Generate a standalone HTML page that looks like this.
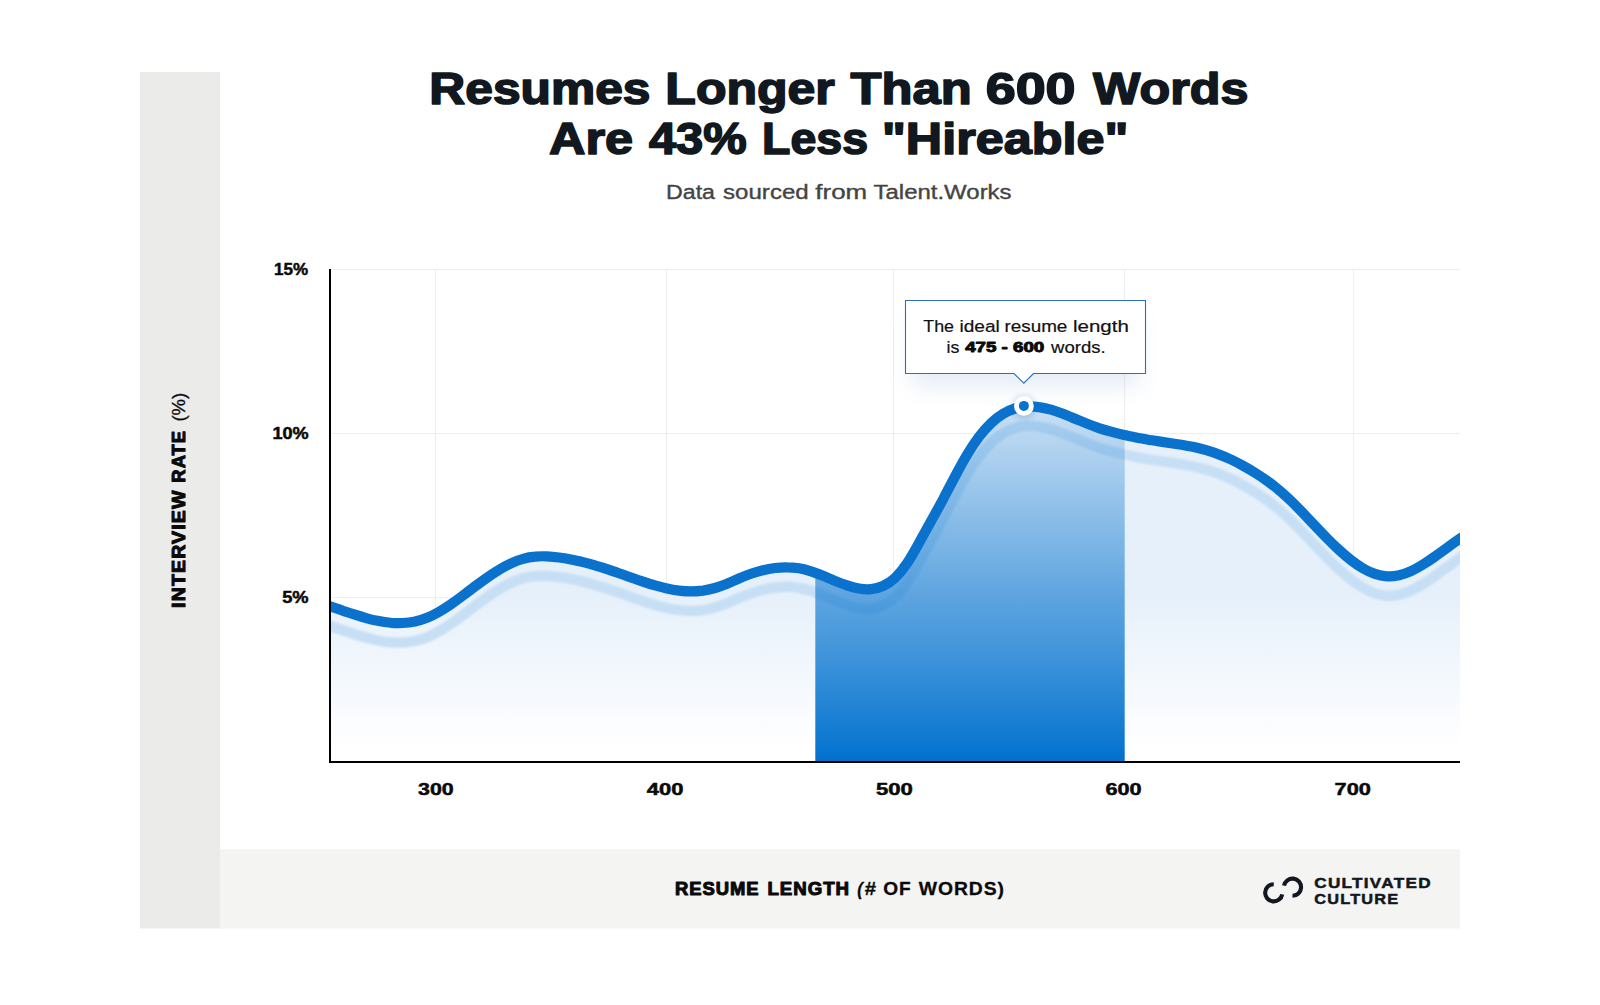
<!DOCTYPE html>
<html lang="en">
<head>
<meta charset="utf-8">
<title>Resumes Longer Than 600 Words Are 43% Less "Hireable"</title>
<style>
html,body{margin:0;padding:0;background:#fff;}
body{width:1600px;height:1005px;overflow:hidden;position:relative;font-family:"Liberation Sans", sans-serif;}
svg{position:absolute;left:0;top:0;display:block;}
text{font-family:"Liberation Sans", sans-serif;}
</style>
</head>
<body>
<svg width="1600" height="1005" viewBox="0 0 1600 1005">
<defs>
<linearGradient id="gl" gradientUnits="userSpaceOnUse" x1="0" y1="595" x2="0" y2="750">
<stop offset="0" stop-color="#e6f0fa"/><stop offset="1" stop-color="#ffffff"/>
</linearGradient>
<linearGradient id="gh" gradientUnits="userSpaceOnUse" x1="0" y1="401" x2="0" y2="762">
<stop offset="0" stop-color="#0071ce" stop-opacity="0.115"/><stop offset="1" stop-color="#0071ce" stop-opacity="1"/>
</linearGradient>
<clipPath id="plot"><rect x="331" y="260" width="1129" height="502"/></clipPath>
<clipPath id="area"><path d="M316,601.9L331.0,606.7C335.0,608.0 339.0,609.4 343.0,610.8C347.0,612.1 351.0,613.4 355.0,614.7C359.0,616.0 363.0,617.2 367.0,618.3C371.0,619.4 375.0,620.3 379.0,621.1C383.0,621.9 387.0,622.4 391.0,622.8C395.0,623.1 399.0,623.2 403.0,623.0C407.0,622.8 411.0,622.3 415.0,621.5C419.0,620.6 423.0,619.4 427.0,617.8C431.0,616.2 435.0,614.1 439.0,611.8C443.0,609.5 447.0,606.9 451.0,604.2C455.0,601.4 459.0,598.5 463.0,595.5C467.0,592.5 471.0,589.5 475.0,586.4C479.0,583.4 483.0,580.5 487.0,577.7C491.0,574.8 495.0,572.2 499.0,569.8C503.0,567.3 507.0,565.1 511.0,563.3C515.0,561.4 519.0,559.9 523.0,558.8C527.0,557.6 531.0,556.9 535.0,556.6C539.0,556.2 543.0,556.2 547.0,556.4C551.0,556.6 555.0,557.0 559.0,557.5C563.0,558.0 567.0,558.7 571.0,559.5C575.0,560.3 579.0,561.1 583.0,562.1C587.0,563.1 591.0,564.2 595.0,565.4C599.0,566.5 603.0,567.8 607.0,569.1C611.0,570.4 615.0,571.8 619.0,573.2C623.0,574.6 627.0,576.0 631.0,577.5C635.0,578.9 639.0,580.3 643.0,581.6C647.0,583.0 651.0,584.3 655.0,585.4C659.0,586.6 663.0,587.6 667.0,588.5C671.0,589.4 675.0,590.1 679.0,590.6C683.0,591.1 687.0,591.4 691.0,591.4C695.0,591.4 699.0,591.1 703.0,590.6C707.0,590.0 711.0,589.2 715.0,588.0C719.0,586.8 723.0,585.3 727.0,583.7C731.0,582.0 735.0,580.2 739.0,578.5C743.0,576.8 747.0,575.2 751.0,573.8C755.0,572.4 759.0,571.2 763.0,570.2C767.0,569.2 771.0,568.5 775.0,568.0C779.0,567.5 783.0,567.2 787.0,567.3C791.0,567.3 795.0,567.7 799.0,568.3C803.0,569.0 807.0,570.0 811.0,571.3C815.0,572.6 819.0,574.2 823.0,575.8C827.0,577.5 831.0,579.2 835.0,580.9C839.0,582.5 843.0,584.1 847.0,585.4C851.0,586.8 855.0,587.8 859.0,588.5C863.0,589.2 867.0,589.5 871.0,589.1C875.0,588.8 879.0,587.8 883.0,586.0C887.0,584.2 891.0,581.6 895.0,577.9C899.0,574.2 903.0,569.4 907.0,563.4C911.0,557.4 915.0,550.3 919.0,543.0C923.0,535.7 927.0,528.3 931.0,521.2C935.0,514.1 939.0,506.8 943.0,499.3C947.0,491.7 951.0,484.0 955.0,476.5C959.0,468.9 963.0,461.6 967.0,454.9C971.0,448.2 975.0,442.1 979.0,436.8C983.0,431.5 987.0,427.0 991.0,423.2C995.0,419.4 999.0,416.3 1003.0,413.9C1007.0,411.5 1011.0,409.7 1015.0,408.5C1019.0,407.3 1023.0,406.6 1027.0,406.4C1031.0,406.2 1035.0,406.5 1039.0,407.1C1043.0,407.6 1047.0,408.6 1051.0,409.7C1055.0,410.9 1059.0,412.3 1063.0,413.8C1067.0,415.4 1071.0,417.0 1075.0,418.7C1079.0,420.3 1083.0,422.0 1087.0,423.6C1091.0,425.2 1095.0,426.7 1099.0,428.1C1103.0,429.4 1107.0,430.6 1111.0,431.7C1115.0,432.9 1119.0,433.9 1123.0,434.8C1127.0,435.7 1131.0,436.6 1135.0,437.3C1139.0,438.1 1143.0,438.8 1147.0,439.5C1151.0,440.2 1155.0,440.8 1159.0,441.4C1163.0,442.0 1167.0,442.6 1171.0,443.2C1175.0,443.8 1179.0,444.4 1183.0,445.0C1187.0,445.7 1191.0,446.5 1195.0,447.3C1199.0,448.2 1203.0,449.2 1207.0,450.3C1211.0,451.5 1215.0,452.8 1219.0,454.4C1223.0,455.9 1227.0,457.6 1231.0,459.5C1235.0,461.4 1239.0,463.5 1243.0,465.7C1247.0,467.9 1251.0,470.2 1255.0,472.7C1259.0,475.2 1263.0,477.9 1267.0,480.7C1271.0,483.6 1275.0,486.7 1279.0,490.1C1283.0,493.4 1287.0,497.1 1291.0,500.9C1295.0,504.8 1299.0,508.9 1303.0,513.1C1307.0,517.3 1311.0,521.6 1315.0,525.8C1319.0,530.0 1323.0,534.2 1327.0,538.3C1331.0,542.4 1335.0,546.3 1339.0,549.9C1343.0,553.6 1347.0,557.0 1351.0,560.1C1355.0,563.2 1359.0,566.0 1363.0,568.3C1367.0,570.6 1371.0,572.5 1375.0,573.9C1379.0,575.3 1383.0,576.1 1387.0,576.4C1391.0,576.6 1395.0,576.2 1399.0,575.3C1403.0,574.3 1407.0,572.9 1411.0,571.1C1415.0,569.2 1419.0,567.0 1423.0,564.5C1427.0,562.1 1431.0,559.4 1435.0,556.5C1439.0,553.7 1443.0,550.8 1447.0,547.9C1451.0,544.9 1455.0,542.0 1459.0,539.3C1459.3,539.1 1459.7,538.9 1460.0,538.6L1475,528.5L1475,770L316,770Z"/></clipPath>
<filter id="sh" x="-30%" y="-80%" width="160%" height="260%"><feGaussianBlur stdDeviation="11"/></filter>
<filter id="sh2" x="-100%" y="-100%" width="300%" height="300%"><feGaussianBlur stdDeviation="3"/></filter>
<filter id="sh3" x="-5%" y="-20%" width="110%" height="140%"><feGaussianBlur stdDeviation="0.9"/></filter>
</defs>

<!-- panels -->
<rect x="140" y="72" width="80" height="856.5" fill="#ebebea"/>
<rect x="220" y="849.3" width="1240" height="79.2" fill="#f4f4f3"/>

<!-- title -->
<g>
<text><tspan x="429.38" y="104.2" textLength="221.15" lengthAdjust="spacingAndGlyphs" style="font-size:44.2px;font-weight:700;fill:#111820;stroke:#111820;stroke-width:1.6px;stroke-linejoin:round;">Resumes</tspan> <tspan x="665.35" y="104.2" textLength="169.44" lengthAdjust="spacingAndGlyphs" style="font-size:44.2px;font-weight:700;fill:#111820;stroke:#111820;stroke-width:1.6px;stroke-linejoin:round;">Longer</tspan> <tspan x="850.59" y="104.2" textLength="121.12" lengthAdjust="spacingAndGlyphs" style="font-size:44.2px;font-weight:700;fill:#111820;stroke:#111820;stroke-width:1.6px;stroke-linejoin:round;">Than</tspan> <tspan x="985.73" y="104.2" textLength="89.84" lengthAdjust="spacingAndGlyphs" style="font-size:44.2px;font-weight:700;fill:#111820;stroke:#111820;stroke-width:1.6px;stroke-linejoin:round;">600</tspan> <tspan x="1093.07" y="104.2" textLength="155.30" lengthAdjust="spacingAndGlyphs" style="font-size:44.2px;font-weight:700;fill:#111820;stroke:#111820;stroke-width:1.6px;stroke-linejoin:round;">Words</tspan></text>
<text><tspan x="549.04" y="154.2" textLength="84.10" lengthAdjust="spacingAndGlyphs" style="font-size:44.2px;font-weight:700;fill:#111820;stroke:#111820;stroke-width:1.6px;stroke-linejoin:round;">Are</tspan> <tspan x="648.94" y="154.2" textLength="97.74" lengthAdjust="spacingAndGlyphs" style="font-size:44.2px;font-weight:700;fill:#111820;stroke:#111820;stroke-width:1.6px;stroke-linejoin:round;">43%</tspan> <tspan x="762.00" y="154.2" textLength="106.01" lengthAdjust="spacingAndGlyphs" style="font-size:44.2px;font-weight:700;fill:#111820;stroke:#111820;stroke-width:1.6px;stroke-linejoin:round;">Less</tspan> <tspan x="881.98" y="154.2" textLength="246.34" lengthAdjust="spacingAndGlyphs" style="font-size:44.2px;font-weight:700;fill:#111820;stroke:#111820;stroke-width:1.6px;stroke-linejoin:round;">&quot;Hireable&quot;</tspan></text>
</g>
<g>
<text><tspan x="666.03" y="198.6" textLength="48.97" lengthAdjust="spacingAndGlyphs" style="font-size:19.6px;font-weight:400;fill:#444;stroke:#444;stroke-width:0.35px;stroke-linejoin:round;">Data</tspan> <tspan x="723.09" y="198.6" textLength="85.62" lengthAdjust="spacingAndGlyphs" style="font-size:19.6px;font-weight:400;fill:#444;stroke:#444;stroke-width:0.35px;stroke-linejoin:round;">sourced</tspan> <tspan x="815.36" y="198.6" textLength="51.82" lengthAdjust="spacingAndGlyphs" style="font-size:19.6px;font-weight:400;fill:#444;stroke:#444;stroke-width:0.35px;stroke-linejoin:round;">from</tspan> <tspan x="873.51" y="198.6" textLength="138.09" lengthAdjust="spacingAndGlyphs" style="font-size:19.6px;font-weight:400;fill:#444;stroke:#444;stroke-width:0.35px;stroke-linejoin:round;">Talent.Works</tspan></text>
</g>

<!-- grid -->
<g stroke="#eeeeee" stroke-width="1.2" fill="none">
<path d="M331,269.5H1460M331,433.5H1460M331,597.5H1460"/>
<path d="M435.5,270V761M666.5,270V761M893.5,270V761M1124.5,270V761M1353.5,270V761"/>
</g>

<!-- area -->
<g clip-path="url(#plot)">
<g clip-path="url(#area)">
<rect x="320" y="390" width="1150" height="372" fill="url(#gl)"/>
<path d="M316,601.9L331.0,606.7C335.0,608.0 339.0,609.4 343.0,610.8C347.0,612.1 351.0,613.4 355.0,614.7C359.0,616.0 363.0,617.2 367.0,618.3C371.0,619.4 375.0,620.3 379.0,621.1C383.0,621.9 387.0,622.4 391.0,622.8C395.0,623.1 399.0,623.2 403.0,623.0C407.0,622.8 411.0,622.3 415.0,621.5C419.0,620.6 423.0,619.4 427.0,617.8C431.0,616.2 435.0,614.1 439.0,611.8C443.0,609.5 447.0,606.9 451.0,604.2C455.0,601.4 459.0,598.5 463.0,595.5C467.0,592.5 471.0,589.5 475.0,586.4C479.0,583.4 483.0,580.5 487.0,577.7C491.0,574.8 495.0,572.2 499.0,569.8C503.0,567.3 507.0,565.1 511.0,563.3C515.0,561.4 519.0,559.9 523.0,558.8C527.0,557.6 531.0,556.9 535.0,556.6C539.0,556.2 543.0,556.2 547.0,556.4C551.0,556.6 555.0,557.0 559.0,557.5C563.0,558.0 567.0,558.7 571.0,559.5C575.0,560.3 579.0,561.1 583.0,562.1C587.0,563.1 591.0,564.2 595.0,565.4C599.0,566.5 603.0,567.8 607.0,569.1C611.0,570.4 615.0,571.8 619.0,573.2C623.0,574.6 627.0,576.0 631.0,577.5C635.0,578.9 639.0,580.3 643.0,581.6C647.0,583.0 651.0,584.3 655.0,585.4C659.0,586.6 663.0,587.6 667.0,588.5C671.0,589.4 675.0,590.1 679.0,590.6C683.0,591.1 687.0,591.4 691.0,591.4C695.0,591.4 699.0,591.1 703.0,590.6C707.0,590.0 711.0,589.2 715.0,588.0C719.0,586.8 723.0,585.3 727.0,583.7C731.0,582.0 735.0,580.2 739.0,578.5C743.0,576.8 747.0,575.2 751.0,573.8C755.0,572.4 759.0,571.2 763.0,570.2C767.0,569.2 771.0,568.5 775.0,568.0C779.0,567.5 783.0,567.2 787.0,567.3C791.0,567.3 795.0,567.7 799.0,568.3C803.0,569.0 807.0,570.0 811.0,571.3C815.0,572.6 819.0,574.2 823.0,575.8C827.0,577.5 831.0,579.2 835.0,580.9C839.0,582.5 843.0,584.1 847.0,585.4C851.0,586.8 855.0,587.8 859.0,588.5C863.0,589.2 867.0,589.5 871.0,589.1C875.0,588.8 879.0,587.8 883.0,586.0C887.0,584.2 891.0,581.6 895.0,577.9C899.0,574.2 903.0,569.4 907.0,563.4C911.0,557.4 915.0,550.3 919.0,543.0C923.0,535.7 927.0,528.3 931.0,521.2C935.0,514.1 939.0,506.8 943.0,499.3C947.0,491.7 951.0,484.0 955.0,476.5C959.0,468.9 963.0,461.6 967.0,454.9C971.0,448.2 975.0,442.1 979.0,436.8C983.0,431.5 987.0,427.0 991.0,423.2C995.0,419.4 999.0,416.3 1003.0,413.9C1007.0,411.5 1011.0,409.7 1015.0,408.5C1019.0,407.3 1023.0,406.6 1027.0,406.4C1031.0,406.2 1035.0,406.5 1039.0,407.1C1043.0,407.6 1047.0,408.6 1051.0,409.7C1055.0,410.9 1059.0,412.3 1063.0,413.8C1067.0,415.4 1071.0,417.0 1075.0,418.7C1079.0,420.3 1083.0,422.0 1087.0,423.6C1091.0,425.2 1095.0,426.7 1099.0,428.1C1103.0,429.4 1107.0,430.6 1111.0,431.7C1115.0,432.9 1119.0,433.9 1123.0,434.8C1127.0,435.7 1131.0,436.6 1135.0,437.3C1139.0,438.1 1143.0,438.8 1147.0,439.5C1151.0,440.2 1155.0,440.8 1159.0,441.4C1163.0,442.0 1167.0,442.6 1171.0,443.2C1175.0,443.8 1179.0,444.4 1183.0,445.0C1187.0,445.7 1191.0,446.5 1195.0,447.3C1199.0,448.2 1203.0,449.2 1207.0,450.3C1211.0,451.5 1215.0,452.8 1219.0,454.4C1223.0,455.9 1227.0,457.6 1231.0,459.5C1235.0,461.4 1239.0,463.5 1243.0,465.7C1247.0,467.9 1251.0,470.2 1255.0,472.7C1259.0,475.2 1263.0,477.9 1267.0,480.7C1271.0,483.6 1275.0,486.7 1279.0,490.1C1283.0,493.4 1287.0,497.1 1291.0,500.9C1295.0,504.8 1299.0,508.9 1303.0,513.1C1307.0,517.3 1311.0,521.6 1315.0,525.8C1319.0,530.0 1323.0,534.2 1327.0,538.3C1331.0,542.4 1335.0,546.3 1339.0,549.9C1343.0,553.6 1347.0,557.0 1351.0,560.1C1355.0,563.2 1359.0,566.0 1363.0,568.3C1367.0,570.6 1371.0,572.5 1375.0,573.9C1379.0,575.3 1383.0,576.1 1387.0,576.4C1391.0,576.6 1395.0,576.2 1399.0,575.3C1403.0,574.3 1407.0,572.9 1411.0,571.1C1415.0,569.2 1419.0,567.0 1423.0,564.5C1427.0,562.1 1431.0,559.4 1435.0,556.5C1439.0,553.7 1443.0,550.8 1447.0,547.9C1451.0,544.9 1455.0,542.0 1459.0,539.3C1459.3,539.1 1459.7,538.9 1460.0,538.6L1475,528.5" transform="translate(0,19.5)" fill="none" stroke="#c7dff4" stroke-width="10.4" filter="url(#sh3)"/>
<rect x="815.3" y="390" width="309.4" height="372" fill="url(#gh)"/>
</g>
<path d="M316,601.9L331.0,606.7C335.0,608.0 339.0,609.4 343.0,610.8C347.0,612.1 351.0,613.4 355.0,614.7C359.0,616.0 363.0,617.2 367.0,618.3C371.0,619.4 375.0,620.3 379.0,621.1C383.0,621.9 387.0,622.4 391.0,622.8C395.0,623.1 399.0,623.2 403.0,623.0C407.0,622.8 411.0,622.3 415.0,621.5C419.0,620.6 423.0,619.4 427.0,617.8C431.0,616.2 435.0,614.1 439.0,611.8C443.0,609.5 447.0,606.9 451.0,604.2C455.0,601.4 459.0,598.5 463.0,595.5C467.0,592.5 471.0,589.5 475.0,586.4C479.0,583.4 483.0,580.5 487.0,577.7C491.0,574.8 495.0,572.2 499.0,569.8C503.0,567.3 507.0,565.1 511.0,563.3C515.0,561.4 519.0,559.9 523.0,558.8C527.0,557.6 531.0,556.9 535.0,556.6C539.0,556.2 543.0,556.2 547.0,556.4C551.0,556.6 555.0,557.0 559.0,557.5C563.0,558.0 567.0,558.7 571.0,559.5C575.0,560.3 579.0,561.1 583.0,562.1C587.0,563.1 591.0,564.2 595.0,565.4C599.0,566.5 603.0,567.8 607.0,569.1C611.0,570.4 615.0,571.8 619.0,573.2C623.0,574.6 627.0,576.0 631.0,577.5C635.0,578.9 639.0,580.3 643.0,581.6C647.0,583.0 651.0,584.3 655.0,585.4C659.0,586.6 663.0,587.6 667.0,588.5C671.0,589.4 675.0,590.1 679.0,590.6C683.0,591.1 687.0,591.4 691.0,591.4C695.0,591.4 699.0,591.1 703.0,590.6C707.0,590.0 711.0,589.2 715.0,588.0C719.0,586.8 723.0,585.3 727.0,583.7C731.0,582.0 735.0,580.2 739.0,578.5C743.0,576.8 747.0,575.2 751.0,573.8C755.0,572.4 759.0,571.2 763.0,570.2C767.0,569.2 771.0,568.5 775.0,568.0C779.0,567.5 783.0,567.2 787.0,567.3C791.0,567.3 795.0,567.7 799.0,568.3C803.0,569.0 807.0,570.0 811.0,571.3C815.0,572.6 819.0,574.2 823.0,575.8C827.0,577.5 831.0,579.2 835.0,580.9C839.0,582.5 843.0,584.1 847.0,585.4C851.0,586.8 855.0,587.8 859.0,588.5C863.0,589.2 867.0,589.5 871.0,589.1C875.0,588.8 879.0,587.8 883.0,586.0C887.0,584.2 891.0,581.6 895.0,577.9C899.0,574.2 903.0,569.4 907.0,563.4C911.0,557.4 915.0,550.3 919.0,543.0C923.0,535.7 927.0,528.3 931.0,521.2C935.0,514.1 939.0,506.8 943.0,499.3C947.0,491.7 951.0,484.0 955.0,476.5C959.0,468.9 963.0,461.6 967.0,454.9C971.0,448.2 975.0,442.1 979.0,436.8C983.0,431.5 987.0,427.0 991.0,423.2C995.0,419.4 999.0,416.3 1003.0,413.9C1007.0,411.5 1011.0,409.7 1015.0,408.5C1019.0,407.3 1023.0,406.6 1027.0,406.4C1031.0,406.2 1035.0,406.5 1039.0,407.1C1043.0,407.6 1047.0,408.6 1051.0,409.7C1055.0,410.9 1059.0,412.3 1063.0,413.8C1067.0,415.4 1071.0,417.0 1075.0,418.7C1079.0,420.3 1083.0,422.0 1087.0,423.6C1091.0,425.2 1095.0,426.7 1099.0,428.1C1103.0,429.4 1107.0,430.6 1111.0,431.7C1115.0,432.9 1119.0,433.9 1123.0,434.8C1127.0,435.7 1131.0,436.6 1135.0,437.3C1139.0,438.1 1143.0,438.8 1147.0,439.5C1151.0,440.2 1155.0,440.8 1159.0,441.4C1163.0,442.0 1167.0,442.6 1171.0,443.2C1175.0,443.8 1179.0,444.4 1183.0,445.0C1187.0,445.7 1191.0,446.5 1195.0,447.3C1199.0,448.2 1203.0,449.2 1207.0,450.3C1211.0,451.5 1215.0,452.8 1219.0,454.4C1223.0,455.9 1227.0,457.6 1231.0,459.5C1235.0,461.4 1239.0,463.5 1243.0,465.7C1247.0,467.9 1251.0,470.2 1255.0,472.7C1259.0,475.2 1263.0,477.9 1267.0,480.7C1271.0,483.6 1275.0,486.7 1279.0,490.1C1283.0,493.4 1287.0,497.1 1291.0,500.9C1295.0,504.8 1299.0,508.9 1303.0,513.1C1307.0,517.3 1311.0,521.6 1315.0,525.8C1319.0,530.0 1323.0,534.2 1327.0,538.3C1331.0,542.4 1335.0,546.3 1339.0,549.9C1343.0,553.6 1347.0,557.0 1351.0,560.1C1355.0,563.2 1359.0,566.0 1363.0,568.3C1367.0,570.6 1371.0,572.5 1375.0,573.9C1379.0,575.3 1383.0,576.1 1387.0,576.4C1391.0,576.6 1395.0,576.2 1399.0,575.3C1403.0,574.3 1407.0,572.9 1411.0,571.1C1415.0,569.2 1419.0,567.0 1423.0,564.5C1427.0,562.1 1431.0,559.4 1435.0,556.5C1439.0,553.7 1443.0,550.8 1447.0,547.9C1451.0,544.9 1455.0,542.0 1459.0,539.3C1459.3,539.1 1459.7,538.9 1460.0,538.6L1475,528.5" fill="none" stroke="#0a72cd" stroke-width="10.2" stroke-linecap="butt" stroke-linejoin="round"/>
</g>

<!-- axes -->
<path d="M330,269V763M329,762H1460" fill="none" stroke="#000" stroke-width="2"/>

<!-- axis tick labels -->
<g>
<text><tspan x="273.99" y="275.3" textLength="34.10" lengthAdjust="spacingAndGlyphs" style="font-size:17.4px;font-weight:700;fill:#0a0a0a;stroke:#0a0a0a;stroke-width:0.5px;stroke-linejoin:round;">15%</tspan></text>
<text><tspan x="272.41" y="439.3" textLength="36.25" lengthAdjust="spacingAndGlyphs" style="font-size:17.4px;font-weight:700;fill:#0a0a0a;stroke:#0a0a0a;stroke-width:0.5px;stroke-linejoin:round;">10%</tspan></text>
<text><tspan x="282.18" y="603.3" textLength="26.44" lengthAdjust="spacingAndGlyphs" style="font-size:17.4px;font-weight:700;fill:#0a0a0a;stroke:#0a0a0a;stroke-width:0.5px;stroke-linejoin:round;">5%</tspan></text>
<text><tspan x="418.00" y="795.3" textLength="35.71" lengthAdjust="spacingAndGlyphs" style="font-size:17.4px;font-weight:700;fill:#0a0a0a;stroke:#0a0a0a;stroke-width:0.5px;stroke-linejoin:round;">300</tspan> <tspan x="646.85" y="795.3" textLength="36.67" lengthAdjust="spacingAndGlyphs" style="font-size:17.4px;font-weight:700;fill:#0a0a0a;stroke:#0a0a0a;stroke-width:0.5px;stroke-linejoin:round;">400</tspan> <tspan x="875.99" y="795.3" textLength="36.96" lengthAdjust="spacingAndGlyphs" style="font-size:17.4px;font-weight:700;fill:#0a0a0a;stroke:#0a0a0a;stroke-width:0.5px;stroke-linejoin:round;">500</tspan> <tspan x="1105.40" y="795.3" textLength="36.14" lengthAdjust="spacingAndGlyphs" style="font-size:17.4px;font-weight:700;fill:#0a0a0a;stroke:#0a0a0a;stroke-width:0.5px;stroke-linejoin:round;">600</tspan> <tspan x="1334.58" y="795.3" textLength="36.35" lengthAdjust="spacingAndGlyphs" style="font-size:17.4px;font-weight:700;fill:#0a0a0a;stroke:#0a0a0a;stroke-width:0.5px;stroke-linejoin:round;">700</tspan></text>
</g>

<!-- y label -->
<g transform="translate(184.7,607.2) rotate(-90)">
<text><tspan x="-0.69" y="0" textLength="118.36" lengthAdjust="spacingAndGlyphs" style="font-size:17.7px;font-weight:700;fill:#0a0a0a;letter-spacing:1.0px;stroke:#0a0a0a;stroke-width:1.0px;stroke-linejoin:round;">INTERVIEW</tspan> <tspan x="124.55" y="0" textLength="52.71" lengthAdjust="spacingAndGlyphs" style="font-size:17.7px;font-weight:700;fill:#0a0a0a;letter-spacing:1.0px;stroke:#0a0a0a;stroke-width:1.0px;stroke-linejoin:round;">RATE</tspan> <tspan x="185.60" y="0" textLength="28.87" lengthAdjust="spacingAndGlyphs" style="font-size:18.7px;font-weight:400;fill:#0a0a0a;stroke:#0a0a0a;stroke-width:0.3px;stroke-linejoin:round;">(%)</tspan></text>
</g>
<!-- x label -->
<g>
<text><tspan x="675.14" y="894.5" textLength="84.38" lengthAdjust="spacingAndGlyphs" style="font-size:17.7px;font-weight:700;fill:#0a0a0a;letter-spacing:0.9px;stroke:#0a0a0a;stroke-width:1.0px;stroke-linejoin:round;">RESUME</tspan> <tspan x="767.47" y="894.5" textLength="82.48" lengthAdjust="spacingAndGlyphs" style="font-size:17.7px;font-weight:700;fill:#0a0a0a;letter-spacing:0.9px;stroke:#0a0a0a;stroke-width:1.0px;stroke-linejoin:round;">LENGTH</tspan> <tspan x="857.21" y="894.9" textLength="5.55" lengthAdjust="spacingAndGlyphs" style="font-size:18.7px;font-weight:700;fill:#0a0a0a;font-style:italic;stroke:#0a0a0a;stroke-width:0.3px;stroke-linejoin:round;">(</tspan><tspan x="864.71" y="894.9" textLength="11.32" lengthAdjust="spacingAndGlyphs" style="font-size:18.7px;font-weight:700;fill:#0a0a0a;stroke:#0a0a0a;stroke-width:0.3px;stroke-linejoin:round;">#</tspan> <tspan x="883.35" y="894.9" textLength="28.35" lengthAdjust="spacingAndGlyphs" style="font-size:18.7px;font-weight:700;fill:#0a0a0a;letter-spacing:0.9px;stroke:#0a0a0a;stroke-width:0.3px;stroke-linejoin:round;">OF</tspan> <tspan x="918.81" y="894.9" textLength="86.14" lengthAdjust="spacingAndGlyphs" style="font-size:18.7px;font-weight:700;fill:#0a0a0a;letter-spacing:0.9px;stroke:#0a0a0a;stroke-width:0.3px;stroke-linejoin:round;">WORDS)</tspan></text>
</g>

<!-- tooltip -->
<rect x="913" y="318" width="225" height="68" fill="#3a78b8" opacity="0.14" filter="url(#sh)"/>
<circle cx="1024" cy="407" r="11" fill="#1a5a99" opacity="0.25" filter="url(#sh2)"/>
<path d="M905.5,300.5H1145.5V373.5H1033.5L1023.8,383.2L1014,373.5H905.5Z" fill="#fff" stroke="#2a70b4" stroke-width="1.1"/>
<g>
<text><tspan x="923.27" y="331.6" textLength="30.71" lengthAdjust="spacingAndGlyphs" style="font-size:16.8px;font-weight:400;fill:#111;stroke:#111;stroke-width:0.2px;stroke-linejoin:round;">The</tspan> <tspan x="959.43" y="331.6" textLength="40.32" lengthAdjust="spacingAndGlyphs" style="font-size:16.8px;font-weight:400;fill:#111;stroke:#111;stroke-width:0.2px;stroke-linejoin:round;">ideal</tspan> <tspan x="1004.41" y="331.6" textLength="62.96" lengthAdjust="spacingAndGlyphs" style="font-size:16.8px;font-weight:400;fill:#111;stroke:#111;stroke-width:0.2px;stroke-linejoin:round;">resume</tspan> <tspan x="1073.00" y="331.6" textLength="55.78" lengthAdjust="spacingAndGlyphs" style="font-size:16.8px;font-weight:400;fill:#111;stroke:#111;stroke-width:0.2px;stroke-linejoin:round;">length</tspan></text>
<text><tspan x="946.62" y="352.55" textLength="12.91" lengthAdjust="spacingAndGlyphs" style="font-size:16.8px;font-weight:400;fill:#111;stroke:#111;stroke-width:0.2px;stroke-linejoin:round;">is</tspan> <tspan x="965.22" y="352.2" textLength="78.97" lengthAdjust="spacingAndGlyphs" style="font-size:13.9px;font-weight:700;fill:#0a0a0a;stroke:#0a0a0a;stroke-width:0.9px;stroke-linejoin:round;">475 - 600</tspan> <tspan x="1051.12" y="352.55" textLength="54.56" lengthAdjust="spacingAndGlyphs" style="font-size:16.8px;font-weight:400;fill:#111;stroke:#111;stroke-width:0.2px;stroke-linejoin:round;">words.</tspan></text>
</g>
<circle cx="1023.9" cy="405.9" r="9.9" fill="#fff"/>
<circle cx="1023.9" cy="405.9" r="5" fill="#0a72cd"/>

<!-- logo -->
<g fill="none" stroke="#111820" stroke-width="4.1">
<path d="M1273.75,884.2A8.6,8.6 0 1 0 1282.22,894.29"/>
<path d="M1292.5,895.8A8.6,8.6 0 1 0 1284.03,885.71"/>
</g>
<g>
<text><tspan x="1314.25" y="888.45" textLength="117.56" lengthAdjust="spacingAndGlyphs" style="font-size:14.65px;font-weight:700;fill:#111820;letter-spacing:1.1px;stroke:#111820;stroke-width:0.5px;stroke-linejoin:round;">CULTIVATED</tspan></text>
<text><tspan x="1314.27" y="904.1" textLength="85.13" lengthAdjust="spacingAndGlyphs" style="font-size:14.65px;font-weight:700;fill:#111820;letter-spacing:1.1px;stroke:#111820;stroke-width:0.5px;stroke-linejoin:round;">CULTURE</tspan></text>
</g>
</svg>
</body>
</html>
